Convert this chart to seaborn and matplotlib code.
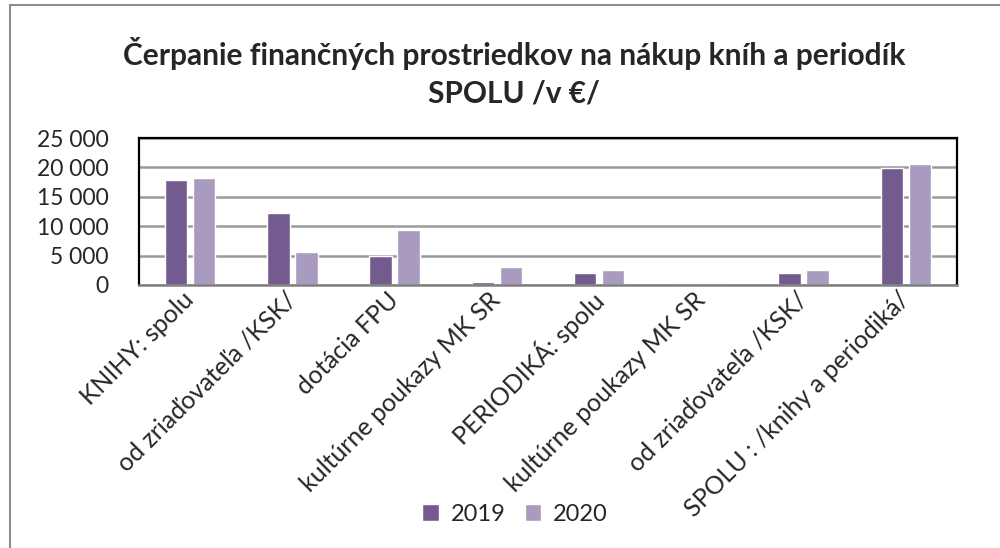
import matplotlib
matplotlib.use("Agg")
import matplotlib.pyplot as plt
import seaborn as sns
import pandas as pd
from matplotlib.patches import Rectangle, Patch
from matplotlib.ticker import FuncFormatter

categories = [
    "KNIHY: spolu",
    "od zriaďovateľa /KSK/",
    "dotácia FPU",
    "kultúrne poukazy MK SR",
    "PERIODIKÁ: spolu",
    "kultúrne poukazy MK SR",
    "od zriaďovateľa /KSK/",
    "SPOLU : /knihy a periodiká/",
]
values_2019 = [17900, 12300, 4950, 550, 2050, 0, 2050, 19950]
values_2020 = [18150, 5650, 9350, 3050, 2500, 0, 2500, 20650]
years = ["2019", "2020"]
colors = {"2019": "#735a8f", "2020": "#a99bc0"}

keys = [f"{i}" for i in range(len(categories))]
df = pd.DataFrame({
    "key": keys * 2,
    "year": [years[0]] * len(keys) + [years[1]] * len(keys),
    "value": values_2019 + values_2020,
})

sns.set_theme(style="white")
plt.rcParams["font.family"] = ["Lato", "DejaVu Sans"]

fig = plt.figure(figsize=(10, 5.48), dpi=100)
fig.patches.append(Rectangle((0.010, -0.05), 1.05, 1.04, transform=fig.transFigure,
                             fill=False, edgecolor="#8c8c8c", linewidth=1.5))

ax = fig.add_axes([0.139, 0.480, 0.818, 0.268])
sns.barplot(data=df, x="key", y="value", hue="year", order=keys, hue_order=years,
            palette=colors, width=0.55, gap=0.2, ax=ax, legend=False, saturation=1)

ax.set_ylim(0, 25000)
ax.set_yticks(range(0, 25001, 5000))
ax.yaxis.set_major_formatter(FuncFormatter(lambda v, p: f"{int(v):,}".replace(",", " ")))
ax.grid(axis="y", color="#9a9a9a", linewidth=1.8)
ax.set_axisbelow(True)
ax.set_xlabel("")
ax.set_ylabel("")
for s in ["top", "right", "left"]:
    ax.spines[s].set_color("#000000")
    ax.spines[s].set_linewidth(1.6)
ax.spines["bottom"].set_color("#808080")
ax.spines["bottom"].set_linewidth(1.8)
ax.tick_params(axis="y", labelsize=16.5, pad=22, length=0)
ax.tick_params(axis="x", length=0, pad=6)
ax.set_xticks(range(len(categories)))
ax.set_xticklabels(categories, rotation=45, ha="right", va="center",
                   rotation_mode="anchor", fontsize=18)
for lbl in ax.get_xticklabels():
    lbl.set_y(-0.02)
    lbl.set_x(lbl.get_position()[0] + 0.12)

fig.text(0.514, 0.902, "Čerpanie finančných prostriedkov na nákup kníh a periodík",
         ha="center", va="center", fontsize=21.5, fontweight="bold")
fig.text(0.514, 0.830, "SPOLU /v €/", ha="center", va="center",
         fontsize=21.5, fontweight="bold")

handles = [Patch(facecolor=colors[y], label=y) for y in years]
fig.legend(handles=handles, loc="center", bbox_to_anchor=(0.515, 0.062), ncol=2,
           frameon=False, fontsize=17, handlelength=0.7, handleheight=0.7,
           handletextpad=0.5, columnspacing=0.8)

fig.savefig("out.png", dpi=100)
